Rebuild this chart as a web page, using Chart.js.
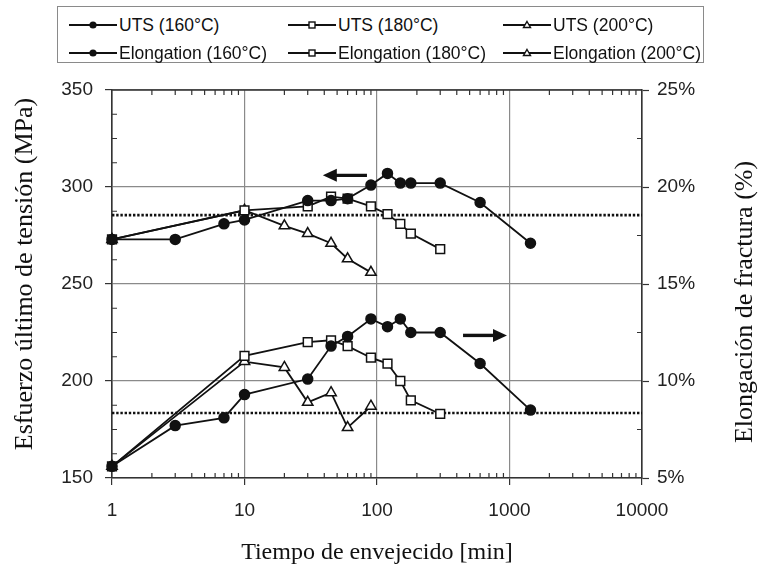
<!DOCTYPE html>
<html>
<head>
<meta charset="utf-8">
<script src="https://cdn.jsdelivr.net/npm/chart.js@4.4.1/dist/chart.umd.min.js"></script>
<style>
  body { margin: 0; background: #fff; }
  #wrap { position: relative; width: 759px; height: 569px; }
  #grafic { position: absolute; left: 0; top: 0; }
  #llegenda {
    position: absolute; left: 57px; top: 6px; width: 647px; height: 57px;
    border: 1px solid #8a8a8a; background: #fff;
    display: grid; grid-template-columns: 219px 215px auto; grid-auto-rows: 28px;
    padding: 4px 0 0 11px; box-sizing: border-box;
    font-family: "Liberation Sans", Arial, sans-serif; font-size: 17.5px; color: #111;
  }
  .item { display: flex; align-items: center; white-space: nowrap; }
  .item svg { margin-right: 2px; }
</style>
</head>
<body>
<div id="wrap">
  <canvas id="grafic" width="759" height="569"></canvas>
  <div id="llegenda"></div>
</div>
<script>
// Dades llegides de la figura
const temps160 = [1, 3, 7, 10, 30, 45, 60, 90, 120, 150, 180, 300, 600, 1440];
const temps180 = [1, 10, 30, 45, 60, 90, 120, 150, 180, 300];
const temps200 = [1, 10, 20, 30, 45, 60, 90];

const uts160 = [273, 273, 281, 283, 293, 293, 294, 301, 307, 302, 302, 302, 292, 271];
const uts180 = [273, 288, 290, 295, 294, 290, 286, 281, 276, 268];
const uts200 = [273, 288, 280, 276, 271, 263, 256];

const elong160 = [5.6, 7.7, 8.1, 9.3, 10.1, 11.8, 12.3, 13.2, 12.8, 13.2, 12.5, 12.5, 10.9, 8.5];
const elong180 = [5.6, 11.3, 12.0, 12.1, 11.8, 11.2, 10.9, 10.0, 9.0, 8.3];
const elong200 = [5.6, 11.0, 10.7, 8.9, 9.4, 7.6, 8.7];

// línies de punts horitzontals (MPa)
const liniesRef = [285.5, 183.5];

const ticksX = [1, 10, 100, 1000, 10000];
const etiquetes = ['UTS (160°C)', 'UTS (180°C)', 'UTS (200°C)',
                   'Elongation (160°C)', 'Elongation (180°C)', 'Elongation (200°C)'];
const marcadors = ['circle', 'rect', 'triangle'];

// fletxes: [x inici, x punta, valor y, eix]
const fletxes = [
  [84, 39, 306, 'y'],
  [446, 957, 12.35, 'y2']
];

const SANS = '"Liberation Sans", Arial, sans-serif';
const SERIF = '"Liberation Serif", "Times New Roman", serif';

function punts(xs, ys) {
  return xs.map((x, i) => ({ x: x, y: ys[i] }));
}

function serie(label, xs, ys, forma, eix) {
  const ple = forma === 'circle';
  return {
    label: label,
    data: punts(xs, ys),
    yAxisID: eix,
    borderColor: '#111',
    borderWidth: 1.8,
    tension: 0,
    pointStyle: forma,
    pointRadius: forma === 'circle' ? 5 : (forma === 'rect' ? 6.2 : 6),
    pointBackgroundColor: ple ? '#111' : '#fff',
    pointBorderColor: '#111',
    pointBorderWidth: 1.5,
    clip: false
  };
}

const datasets = [
  serie(etiquetes[0], temps160, uts160, 'circle', 'y'),
  serie(etiquetes[1], temps180, uts180, 'rect', 'y'),
  serie(etiquetes[2], temps200, uts200, 'triangle', 'y'),
  serie(etiquetes[3], temps160, elong160, 'circle', 'y2'),
  serie(etiquetes[4], temps180, elong180, 'rect', 'y2'),
  serie(etiquetes[5], temps200, elong200, 'triangle', 'y2')
];
liniesRef.forEach(v => {
  datasets.push({
    label: 'ref',
    data: [{ x: ticksX[0], y: v }, { x: ticksX[ticksX.length - 1], y: v }],
    yAxisID: 'y',
    borderColor: '#111',
    borderWidth: 2.6,
    borderDash: [2.4, 1.8],
    pointRadius: 0,
    order: 10
  });
});

// Llegenda en HTML (línia + marcador)
function svgMarcador(forma) {
  let m = '';
  if (forma === 'circle') m = '<circle cx="24" cy="7" r="3.6" fill="#111"/>';
  if (forma === 'rect') m = '<rect x="21" y="4" width="6" height="6" fill="#fff" stroke="#111" stroke-width="1.4"/>';
  if (forma === 'triangle') m = '<polygon points="24,3.5 27.5,9.5 20.5,9.5" fill="#fff" stroke="#111" stroke-width="1.4"/>';
  return '<svg width="48" height="14"><line x1="0" y1="7" x2="48" y2="7" stroke="#111" stroke-width="2"/>' + m + '</svg>';
}
document.getElementById('llegenda').innerHTML = etiquetes.map((t, i) =>
  '<div class="item">' + svgMarcador(marcadors[i % 3]) + '<span>' + t + '</span></div>'
).join('');

function titolVertical(ctx, text, x, y) {
  ctx.save();
  ctx.translate(x, y);
  ctx.rotate(-Math.PI / 2);
  ctx.font = '26px ' + SERIF;
  ctx.fillStyle = '#111';
  ctx.textAlign = 'center';
  ctx.textBaseline = 'middle';
  ctx.fillText(text, 0, 0);
  ctx.restore();
}

// Marques menors, vora superior, fletxes i títols verticals
const extres = {
  id: 'extres',
  beforeDatasetsDraw(chart) {
    const ctx = chart.ctx;
    const a = chart.chartArea;
    const sx = chart.scales.x, sy = chart.scales.y, sy2 = chart.scales.y2;
    ctx.save();
    ctx.strokeStyle = '#333';
    ctx.lineWidth = 1.2;
    ctx.beginPath();
    for (let d = 1; d < 10000; d *= 10) {
      for (let m = 2; m <= 9; m++) {
        const px = sx.getPixelForValue(d * m);
        ctx.moveTo(px, a.bottom); ctx.lineTo(px, a.bottom - 5);
        ctx.moveTo(px, a.top); ctx.lineTo(px, a.top + 5);
      }
    }
    for (let v = 150; v <= 350; v += 12.5) {
      if (v % 50 === 0) continue;
      const py = sy.getPixelForValue(v);
      ctx.moveTo(a.left, py); ctx.lineTo(a.left + 5, py);
    }
    for (let v = 7.5; v < 25; v += 5) {
      const py = sy2.getPixelForValue(v);
      ctx.moveTo(a.right, py); ctx.lineTo(a.right - 5, py);
    }
    ctx.stroke();
    ctx.lineWidth = 1.6;
    ctx.beginPath();
    ctx.moveTo(a.left, a.top); ctx.lineTo(a.right, a.top);
    ctx.stroke();
    ctx.restore();
  },
  afterDatasetsDraw(chart) {
    const ctx = chart.ctx;
    const sx = chart.scales.x;
    ctx.save();
    ctx.fillStyle = '#111';
    ctx.strokeStyle = '#111';
    fletxes.forEach(f => {
      const x0 = sx.getPixelForValue(f[0]);
      const x1 = sx.getPixelForValue(f[1]);
      const y = chart.scales[f[3]].getPixelForValue(f[2]);
      const dir = x1 > x0 ? 1 : -1;
      ctx.lineWidth = 3.4;
      ctx.beginPath();
      ctx.moveTo(x0, y); ctx.lineTo(x1 - dir * 12, y);
      ctx.stroke();
      ctx.beginPath();
      ctx.moveTo(x1, y);
      ctx.lineTo(x1 - dir * 14, y - 6.5);
      ctx.lineTo(x1 - dir * 14, y + 6.5);
      ctx.closePath();
      ctx.fill();
    });
    ctx.restore();
  },
  afterDraw(chart) {
    titolVertical(chart.ctx, 'Esfuerzo último de tensión (MPa)', 25, 274);
    titolVertical(chart.ctx, 'Elongación de fractura (%)', 745, 302);
  }
};

new Chart(document.getElementById('grafic'), {
  type: 'line',
  data: { datasets: datasets },
  plugins: [extres],
  options: {
    responsive: false,
    animation: false,
    layout: { padding: { top: 90, left: 0, right: 0, bottom: 0 } },
    plugins: { legend: { display: false }, tooltip: { enabled: false } },
    scales: {
      x: {
        type: 'logarithmic',
        min: 1, max: 10000,
        afterBuildTicks: s => { s.ticks = ticksX.map(v => ({ value: v })); },
        afterFit: s => { s.height = 91; },
        ticks: {
          callback: v => String(v),
          font: { family: SANS, size: 19 }, color: '#222',
          padding: 14, maxRotation: 0, autoSkip: false
        },
        grid: { color: '#8a8a8a', lineWidth: 1.2, tickLength: 7, tickColor: '#333', tickWidth: 1.2 },
        border: { color: '#333', width: 1.6 },
        title: {
          display: true, text: 'Tiempo de envejecido [min]', color: '#111',
          font: { family: SERIF, size: 24, lineHeight: 1 }, padding: { top: 0, bottom: 4 }
        }
      },
      y: {
        position: 'left',
        min: 150, max: 350,
        afterFit: s => { s.width = 112; },
        ticks: { stepSize: 50, font: { family: SANS, size: 19 }, color: '#222', padding: 12 },
        grid: { color: '#8a8a8a', lineWidth: 1.2, tickLength: 7, tickColor: '#333', tickWidth: 1.2 },
        border: { color: '#333', width: 1.6 }
      },
      y2: {
        position: 'right',
        min: 5, max: 25,
        afterFit: s => { s.width = 117; },
        ticks: { stepSize: 5, callback: v => v + '%', font: { family: SANS, size: 19 }, color: '#222', padding: 8 },
        grid: { drawOnChartArea: false, tickLength: 7, tickColor: '#333', tickWidth: 1.2 },
        border: { color: '#333', width: 1.6 }
      }
    }
  }
});
</script>
</body>
</html>
